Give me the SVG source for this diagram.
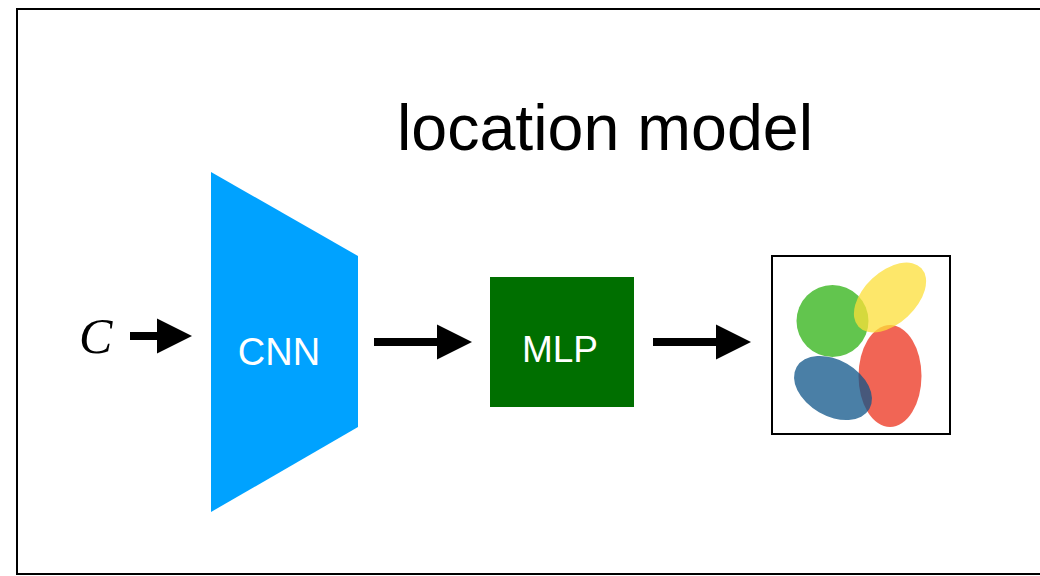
<svg xmlns="http://www.w3.org/2000/svg" width="1040" height="576" viewBox="0 0 1040 576">
  <style>
    .label { font-family: "Liberation Sans", Arial, sans-serif; fill: #ffffff; text-anchor: middle; }
    .title { font-family: "Liberation Sans", Arial, sans-serif; fill: #000000; }
    .var { font-family: "Liberation Serif", "Times New Roman", serif; font-style: italic; fill: #000000; }
    .shaft { stroke: #000000; stroke-width: 8; fill: none; marker-end: url(#head); }
  </style>
  <defs>
    <marker id="head" markerUnits="userSpaceOnUse" markerWidth="35" markerHeight="36" refX="0" refY="17.5" orient="auto" overflow="visible">
      <path d="M0,0 L35,17.5 L0,35 Z" fill="#000000"/>
    </marker>
  </defs>

  <rect width="1040" height="576" fill="#ffffff"/>
  <!-- outer frame -->
  <rect x="17" y="9" width="1040" height="565" fill="none" stroke="#000000" stroke-width="2"/>

  <text class="title" x="397" y="150" font-size="64" textLength="416" lengthAdjust="spacingAndGlyphs">location model</text>

  <g id="input">
    <text class="var" x="79" y="353" font-size="50">C</text>
  </g>

  <g id="cnn">
    <polygon points="211,172 358,256 358,427 211,512" fill="#00a2ff"/>
    <text class="label" x="279" y="365" font-size="38">CNN</text>
  </g>

  <g id="mlp">
    <rect x="490" y="277" width="144" height="130" fill="#006f00"/>
    <text class="label" x="560" y="362" font-size="37">MLP</text>
  </g>

  <g id="output">
    <rect x="772" y="256" width="178" height="178" fill="#ffffff" stroke="#000000" stroke-width="2"/>
    <circle cx="832.5" cy="321" r="36" fill="#62c54e"/>
    <ellipse cx="890" cy="376" rx="31.5" ry="51" fill="#ee3f2b" fill-opacity="0.8"/>
    <ellipse cx="890" cy="297.5" rx="43" ry="26" transform="rotate(-43 890 297.5)" fill="#fcdf38" fill-opacity="0.75"/>
    <ellipse cx="833" cy="388" rx="42" ry="28" transform="rotate(30 833 388)" fill="#0d5488" fill-opacity="0.75"/>
  </g>

  <g id="connectors">
    <line class="shaft" x1="130" y1="336" x2="157" y2="336"/>
    <line class="shaft" x1="374" y1="342" x2="437" y2="342"/>
    <line class="shaft" x1="653" y1="342" x2="716" y2="342"/>
  </g>
</svg>
